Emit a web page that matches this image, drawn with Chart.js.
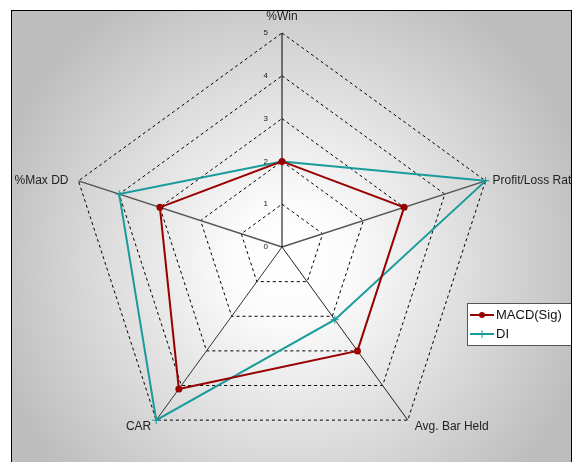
<!DOCTYPE html>
<html>
<head>
<meta charset="utf-8">
<script src="https://cdn.jsdelivr.net/npm/chart.js@4"></script>
<style>
  html, body { margin: 0; padding: 0; background: #fff; }
  #wrap { width: 583px; height: 462px; }
</style>
</head>
<body>
<div id="wrap"><canvas id="radarChart" width="583" height="462"></canvas></div>
<script>
// data
const categories = ['%Win', 'Profit/Loss Ratio', 'Avg. Bar Held', 'CAR', '%Max DD'];
const macdValues = [2, 3, 3, 4.1, 3];
const diValues = [2, 5, 2.1, 5, 4];
const tickLabels = ['0', '1', '2', '3', '4', '5'];
const seriesNames = ['MACD(Sig)', 'DI'];

const RED = '#990000';
const TEAL = '#179b9b';
const FRAME = { x: 11, y: 10, w: 560, h: 470 };

// gray frame with a soft white glow in the middle
const backgroundPlugin = {
    id: 'frameBg',
    beforeDraw(chart) {
        const c = chart.ctx;
        c.save();
        const g = c.createRadialGradient(290, 262, 0, 290, 262, 310);
        g.addColorStop(0, '#ffffff');
        g.addColorStop(0.18, '#fcfcfc');
        g.addColorStop(1, '#bdbdbd');
        c.fillStyle = g;
        c.fillRect(FRAME.x, FRAME.y, FRAME.w, FRAME.h);
        c.restore();
    }
};

// axis names, tick numbers, legend and frame border
const decorPlugin = {
    id: 'decor',
    afterDraw(chart) {
        const c = chart.ctx;
        const r = chart.scales.r;
        c.save();
        c.beginPath();
        c.rect(FRAME.x, FRAME.y, FRAME.w, FRAME.h);
        c.clip();

        // tick values left of the %Win spoke
        c.font = '8px "Liberation Sans", Arial, sans-serif';
        c.fillStyle = '#222';
        c.textAlign = 'right';
        c.textBaseline = 'middle';
        tickLabels.forEach((t) => {
            const d = r.getDistanceFromCenterForValue(Number(t));
            c.fillText(t, r.xCenter - 14, r.yCenter - d);
        });

        // point labels
        c.font = '12px "Liberation Sans", Arial, sans-serif';
        c.fillStyle = '#222';
        categories.forEach((name, i) => {
            const p = r.getPointPosition(i, r.drawingArea);
            const dx = p.x - r.xCenter;
            const dy = p.y - r.yCenter;
            let x = p.x, y = p.y;
            if (Math.abs(dx) < 1) {
                c.textAlign = 'center';
                y -= 16;
            } else if (dx > 0) {
                c.textAlign = 'left';
                x += 7;
                if (dy > 0) y += 7;
            } else {
                c.textAlign = 'right';
                x -= dy > 0 ? 5 : 10;
                if (dy > 0) y += 7;
            }
            c.fillText(name, x, y);
        });

        // legend box
        const lx = 467.5, ly = 303.5, lw = 104, lh = 42;
        c.fillStyle = '#fff';
        c.fillRect(lx, ly, lw, lh);
        c.strokeStyle = '#555';
        c.lineWidth = 1;
        c.strokeRect(lx, ly, lw, lh);
        const colors = [RED, TEAL];
        c.font = '13px "Liberation Sans", Arial, sans-serif';
        c.textAlign = 'left';
        seriesNames.forEach((s, i) => {
            const y = 315 + i * 19;
            c.strokeStyle = colors[i];
            c.lineWidth = 2;
            c.beginPath();
            c.moveTo(470, y);
            c.lineTo(494, y);
            c.stroke();
            if (i === 0) {
                c.fillStyle = RED;
                c.beginPath();
                c.arc(482, y, 3, 0, Math.PI * 2);
                c.fill();
            } else {
                c.lineWidth = 1;
                c.beginPath();
                c.moveTo(482, y - 4);
                c.lineTo(482, y + 4);
                c.stroke();
            }
            c.fillStyle = '#111';
            c.fillText(s, 496, y);
        });
        c.restore();

        // frame border
        c.save();
        c.strokeStyle = '#000';
        c.lineWidth = 1;
        c.strokeRect(FRAME.x + 0.5, FRAME.y + 0.5, FRAME.w, FRAME.h);
        c.restore();
    }
};

const spokeColors = ['#000', '#555', '#222', '#333', '#555'];
const spokeWidths = [1, 1.5, 1, 1, 1.5];

const ctx = document.getElementById('radarChart').getContext('2d');
const radarChart = new Chart(ctx, {
    type: 'radar',
    data: {
        labels: categories,
        datasets: [{
            label: seriesNames[0],
            data: macdValues,
            borderColor: RED,
            backgroundColor: RED,
            borderWidth: 2,
            fill: false,
            pointRadius: 3.5,
            pointBackgroundColor: RED,
            pointBorderWidth: 0,
            tension: 0
        }, {
            label: seriesNames[1],
            data: diValues,
            borderColor: TEAL,
            backgroundColor: TEAL,
            borderWidth: 2,
            fill: false,
            pointStyle: 'cross',
            pointRadius: 4,
            pointBorderWidth: 1,
            pointBorderColor: TEAL,
            tension: 0
        }]
    },
    options: {
        responsive: false,
        animation: false,
        devicePixelRatio: 1,
        layout: { padding: { left: 10, right: 29, top: 33, bottom: 1 } },
        scales: {
            r: {
                min: 0,
                max: 5,
                ticks: { display: false, stepSize: 1 },
                pointLabels: { display: false },
                grid: { color: '#000', lineWidth: 1, borderDash: [3, 3] },
                border: { dash: [3, 3] },
                angleLines: {
                    color: (c) => spokeColors[c.index],
                    lineWidth: (c) => spokeWidths[c.index]
                }
            }
        },
        plugins: {
            legend: { display: false },
            tooltip: { enabled: false }
        }
    },
    plugins: [backgroundPlugin, decorPlugin]
});
</script>
</body>
</html>
